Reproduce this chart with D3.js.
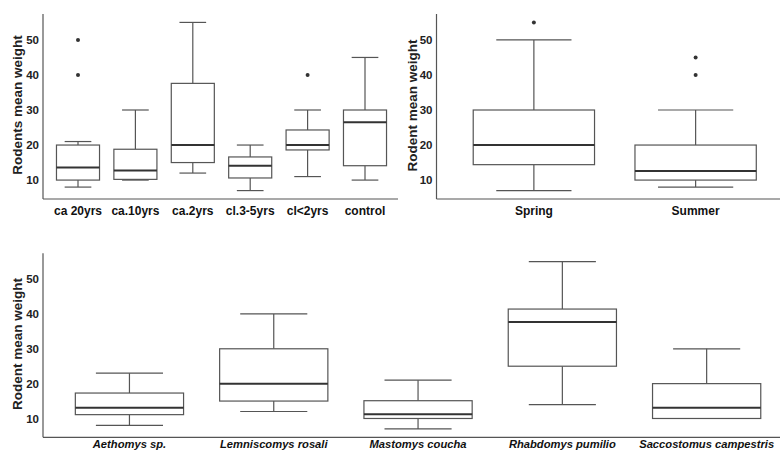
<!DOCTYPE html>
<html>
<head>
<meta charset="utf-8">
<script src="https://cdn.jsdelivr.net/npm/d3@7"></script>
<style>
  html, body { margin: 0; padding: 0; background: #fff; }
  svg { display: block; font-family: "Liberation Sans", Arial, sans-serif; }
</style>
</head>
<body>
<svg id="chart" width="780" height="452"></svg>
<script>
// Rodent mean weight by habitat age, season and species

const yTicks = [10, 20, 30, 40, 50];

// Habitat panel
const habitatCats = ["ca 20yrs", "ca.10yrs", "ca.2yrs", "cl.3-5yrs", "cl<2yrs", "control"];
const habitatLow = [8, 10, 12, 7, 11, 10];
const habitatQ1 = [10, 10.2, 15, 10.6, 18.6, 14.1];
const habitatMed = [13.6, 12.7, 20, 14.1, 20, 26.5];
const habitatQ3 = [20, 18.8, 37.6, 16.6, 24.3, 30];
const habitatHigh = [21, 30, 55, 20, 30, 45];
const habitatOut = [[40, 50], [], [], [], [40], []];

// Season panel
const seasonCats = ["Spring", "Summer"];
const seasonLow = [7, 8];
const seasonQ1 = [14.4, 10];
const seasonMed = [20, 12.6];
const seasonQ3 = [30, 20];
const seasonHigh = [50, 30];
const seasonOut = [[55], [40, 45]];

// Species panel
const speciesCats = ["Aethomys sp.", "Lemniscomys rosali", "Mastomys coucha", "Rhabdomys pumilio", "Saccostomus campestris"];
const speciesLow = [8, 12, 7, 14, 10];
const speciesQ1 = [11.1, 15, 10, 25, 10];
const speciesMed = [13.1, 20, 11.2, 37.7, 13.1];
const speciesQ3 = [17.3, 30, 15.1, 41.4, 20];
const speciesHigh = [23, 40, 21, 55, 30];
const speciesOut = [[], [], [], [], []];

const svg = d3.select("#chart");

function panel(opts) {
  const { cats, low, q1, med, q3, high, out } = opts;
  const g = svg.append("g");

  const x = d3.scaleBand().domain(cats).range(opts.bandRange).paddingInner(0.25).paddingOuter(0.125);
  const y = d3.scaleLinear().domain([4.6, 57.4]).range([opts.bottom, opts.top]);

  // axis lines
  g.append("line")
    .attr("x1", opts.left).attr("x2", opts.left)
    .attr("y1", opts.top).attr("y2", opts.bottom)
    .attr("stroke", "#555").attr("stroke-width", 1.2);
  g.append("line")
    .attr("x1", opts.left).attr("x2", opts.right)
    .attr("y1", opts.bottom).attr("y2", opts.bottom)
    .attr("stroke", "#555").attr("stroke-width", 1.2);

  // y tick labels
  const yAxis = d3.axisLeft(y).tickValues(yTicks).tickSize(0).tickPadding(4);
  const ya = g.append("g").attr("transform", `translate(${opts.left},0)`).call(yAxis);
  ya.select(".domain").remove();
  ya.selectAll("text")
    .attr("font-size", 11.5).attr("font-weight", "bold").attr("fill", "#222")
    .attr("font-family", "Liberation Sans, Arial, sans-serif");

  // x category labels
  const xAxis = d3.axisBottom(x).tickSize(0).tickPadding(opts.labelPad);
  const xa = g.append("g").attr("transform", `translate(0,${opts.bottom})`).call(xAxis);
  xa.select(".domain").remove();
  xa.selectAll("text")
    .attr("font-size", opts.labelSize).attr("font-weight", "bold").attr("fill", "#111")
    .attr("font-style", opts.italic ? "italic" : "normal")
    .attr("font-family", "Liberation Sans, Arial, sans-serif");

  // y axis title
  g.append("text")
    .attr("transform", `translate(${opts.titleX},${opts.titleY}) rotate(-90)`)
    .attr("text-anchor", "middle")
    .attr("font-size", 13.5).attr("font-weight", "bold").attr("fill", "#222")
    .text(opts.title);

  const bw = x.bandwidth();
  const capW = bw * 0.62;

  cats.forEach((c, i) => {
    const cx = x(c) + bw / 2;
    const bg = g.append("g").attr("stroke", "#555").attr("fill", "none");
    // whiskers
    bg.append("line").attr("x1", cx).attr("x2", cx).attr("y1", y(q3[i])).attr("y2", y(high[i])).attr("stroke-width", 1.2);
    bg.append("line").attr("x1", cx).attr("x2", cx).attr("y1", y(q1[i])).attr("y2", y(low[i])).attr("stroke-width", 1.2);
    bg.append("line").attr("x1", cx - capW / 2).attr("x2", cx + capW / 2).attr("y1", y(high[i])).attr("y2", y(high[i])).attr("stroke-width", 1.2);
    bg.append("line").attr("x1", cx - capW / 2).attr("x2", cx + capW / 2).attr("y1", y(low[i])).attr("y2", y(low[i])).attr("stroke-width", 1.2);
    // box
    bg.append("rect")
      .attr("x", x(c)).attr("width", bw)
      .attr("y", y(q3[i])).attr("height", y(q1[i]) - y(q3[i]))
      .attr("fill", "#fff").attr("stroke-width", 1.2);
    // median
    bg.append("line").attr("x1", x(c)).attr("x2", x(c) + bw)
      .attr("y1", y(med[i])).attr("y2", y(med[i]))
      .attr("stroke", "#333").attr("stroke-width", 2);
    // outliers
    out[i].forEach(v => {
      g.append("circle").attr("cx", cx).attr("cy", y(v)).attr("r", 2).attr("fill", "#333");
    });
  });
}

panel({
  cats: habitatCats, low: habitatLow, q1: habitatQ1, med: habitatMed, q3: habitatQ3, high: habitatHigh, out: habitatOut,
  left: 43, right: 398, top: 14, bottom: 199, bandRange: [49.3, 393.7],
  title: "Rodents mean weight", titleX: 22, titleY: 105,
  labelSize: 12, labelPad: 7, italic: false
});

panel({
  cats: seasonCats, low: seasonLow, q1: seasonQ1, med: seasonMed, q3: seasonQ3, high: seasonHigh, out: seasonOut,
  left: 436.5, right: 780, top: 14, bottom: 199, bandRange: [453, 776.5],
  title: "Rodent mean weight", titleX: 417, titleY: 105.5,
  labelSize: 12, labelPad: 7, italic: false
});

panel({
  cats: speciesCats, low: speciesLow, q1: speciesQ1, med: speciesMed, q3: speciesQ3, high: speciesHigh, out: speciesOut,
  left: 43, right: 780, top: 253.3, bottom: 437.3, bandRange: [57.3, 778.8],
  title: "Rodent mean weight", titleX: 22, titleY: 344,
  labelSize: 11.2, labelPad: 2.5, italic: true
});
</script>
</body>
</html>
